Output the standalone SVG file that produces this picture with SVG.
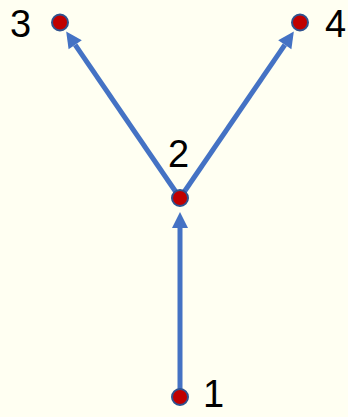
<svg xmlns="http://www.w3.org/2000/svg" width="348" height="417" viewBox="0 0 348 417">
<style>
.edge{stroke:#4472C4;stroke-width:5;fill:none;marker-end:url(#ah)}
.node circle{fill:#C00000;stroke:#2F528F;stroke-width:2}
.node text{font-family:"Liberation Sans",Arial,sans-serif;font-size:38px;fill:#000}
</style>
<defs>
<marker id="ah" markerUnits="userSpaceOnUse" markerWidth="20" markerHeight="20" refX="0" refY="0" orient="auto" overflow="visible">
<path d="M0,-8 L16,0 L0,8 z" fill="#4472C4"/>
</marker>
</defs>
<rect width="348" height="417" fill="#FFFFF2"/>
<g id="connectors">
<line class="edge" x1="180" y1="389" x2="180" y2="228"/>
<line class="edge" x1="180" y1="198" x2="75.2" y2="44.8"/>
<line class="edge" x1="180" y1="198" x2="284.8" y2="44.8"/>
</g>
<g id="node1" class="node"><circle cx="180" cy="397" r="8"/><text x="203" y="407">1</text></g>
<g id="node2" class="node"><circle cx="180" cy="198" r="8"/><text x="168" y="167">2</text></g>
<g id="node3" class="node"><circle cx="60" cy="22.5" r="8"/><text x="10" y="37">3</text></g>
<g id="node4" class="node"><circle cx="300" cy="22.5" r="8"/><text x="325" y="37">4</text></g>
</svg>
